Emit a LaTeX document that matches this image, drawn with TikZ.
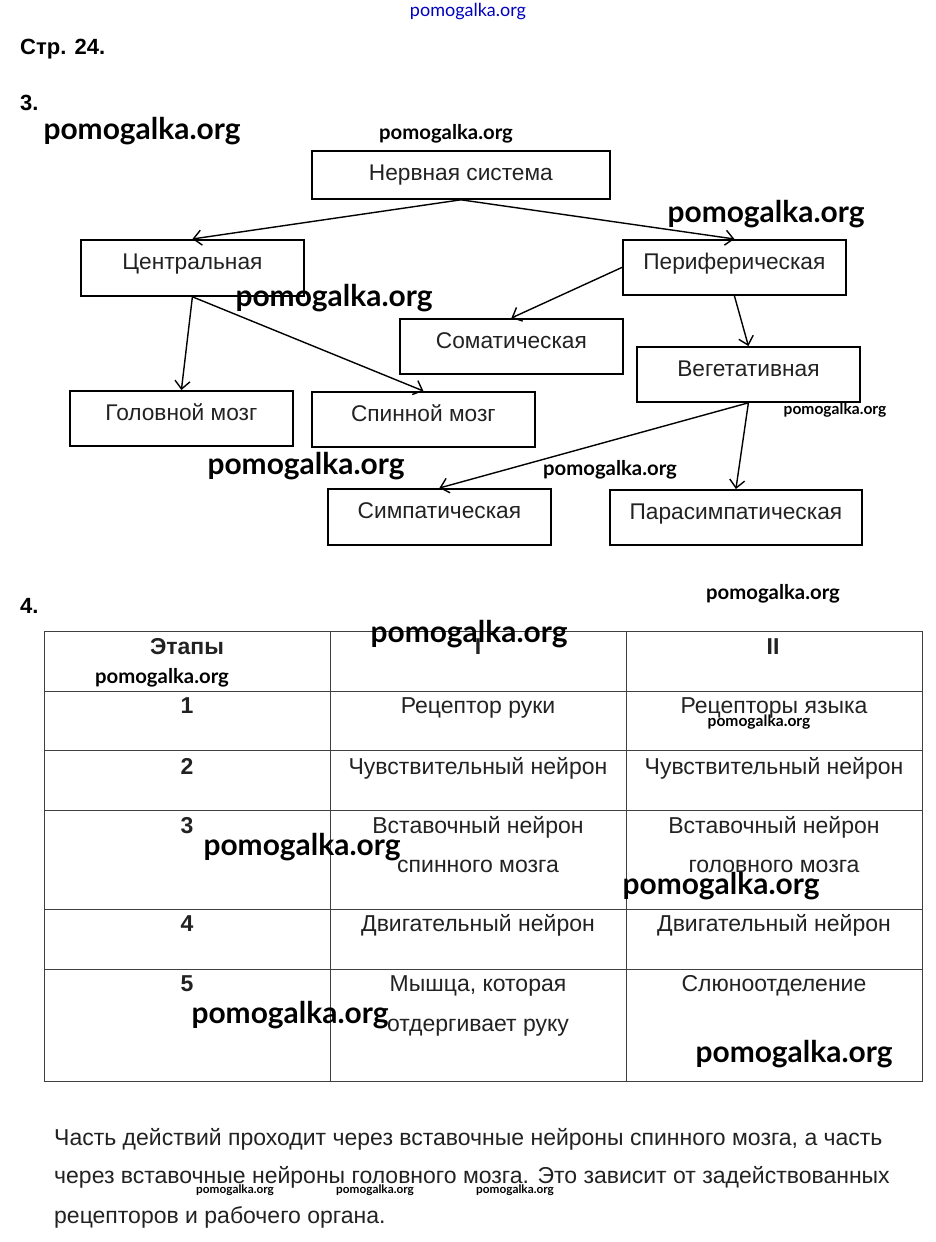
\documentclass[tikz,border=0pt]{standalone}
\usepackage{fontspec}
\setmainfont{Liberation Sans}
\newfontfamily\wmfont{Lato}
\usetikzlibrary{arrows.meta}
\definecolor{txt}{HTML}{222222}
\begin{document}
\begin{tikzpicture}[x=1pt,y=-1pt,
  box/.style={draw=black, line width=1.8pt, inner xsep=0pt, inner ysep=0pt, anchor=north west,
     text height=30pt, text depth=26pt, text=txt, font=\fontsize{22.7}{26}\selectfont},
  arr/.style={line width=1.4pt, -{Straight Barb[length=8pt,width=15pt,line width=1.4pt]}},
  tline/.style={line width=0.9pt, draw=black!75},
  ttxt/.style={text=txt, font=\fontsize{23}{27}\selectfont, anchor=base},
  tnum/.style={text=txt, font=\bfseries\fontsize{23}{27}\selectfont, anchor=base},
  wmbig/.style={font=\wmfont\bfseries\fontsize{29.9}{32}\selectfont, text=black, inner sep=0pt},
  wmmid/.style={font=\wmfont\bfseries\fontsize{20.3}{22}\selectfont, text=black, inner sep=0pt},
  wmsml/.style={font=\wmfont\bfseries\fontsize{15.6}{18}\selectfont, text=black, inner sep=0pt},
  wmtiny/.style={font=\wmfont\bfseries\fontsize{11.8}{14}\selectfont, text=black, inner sep=0pt},
  ptxt/.style={text=txt, font=\fontsize{23}{27}\selectfont, anchor=base west, inner sep=0pt},
  head/.style={text=black, font=\bfseries\fontsize{22}{26}\selectfont, anchor=base west, inner sep=0pt}
]
\useasboundingbox (0,0) rectangle (936,1242);
\fill[white] (0,0) rectangle (936,1242);

% headings
\node[head] (h1) at (20,54) {Стр. 24.};
\node[head] (h2) at (20,110) {3.};
\node[head] (h3) at (20,613) {4.};

% boxes
\node[box, minimum width=298pt, text depth=18pt] (nerv) at (311,150) {Нервная система};
\node[box, minimum width=223pt] (centr) at (80,239) {Центральная};
\node[box, minimum width=223pt, text depth=25pt] (perif) at (622,239) {Периферическая};
\node[box, minimum width=223pt, text depth=25pt] (somat) at (399,318) {Соматическая};
\node[box, minimum width=223pt, text depth=25pt] (veget) at (636,346) {Вегетативная};
\node[box, minimum width=223pt, text depth=25pt] (golov) at (69,390) {Головной мозг};
\node[box, minimum width=223pt, text depth=25pt] (spin) at (311,391) {Спинной мозг};
\node[box, minimum width=223pt] (simp) at (327,488) {Симпатическая};
\node[box, minimum width=252pt, text depth=25pt] (paras) at (609,489) {Парасимпатическая};

% arrows
\draw[arr] (nerv.south) -- (centr.north);
\draw[arr] (nerv.south) -- (perif.north);
\draw[arr] (centr.south) -- (golov.north);
\draw[arr] (centr.south) -- (spin.north);
\draw[arr] (perif.west) -- (somat.north);
\draw[arr] (perif.south) -- (veget.north);
\draw[arr] (veget.south) -- (simp.north);
\draw[arr] (veget.south) -- (paras.north);

% table
\draw[tline] (44,631) rectangle (922,1081);
\foreach \yy in {691,750,810,909,969} \draw[tline] (44,\yy) -- (922,\yy);
\draw[tline] (330,631) -- (330,1081);
\draw[tline] (626,631) -- (626,1081);

\node[tnum] (c0) at (187,654) {Этапы};
\node[tnum] (c1) at (478,654) {I};
\node[tnum] (c2) at (773,654) {II};
\node[tnum] (r1) at (187,713) {1};
\node[tnum] (r2) at (187,774) {2};
\node[tnum] (r3) at (187,833) {3};
\node[tnum] (r4) at (187,931) {4};
\node[tnum] (r5) at (187,991) {5};
\node[ttxt] (a1) at (478,713) {Рецептор руки};
\node[ttxt] (b1) at (774,713) {Рецепторы языка};
\node[ttxt] (a2) at (478,774) {Чувствительный нейрон};
\node[ttxt] (b2) at (774,774) {Чувствительный нейрон};
\node[ttxt] (a3) at (478,833) {Вставочный нейрон};
\node[ttxt] (a3b) at (478,872) {спинного мозга};
\node[ttxt] (b3) at (774,833) {Вставочный нейрон};
\node[ttxt] (b3b) at (774,872) {головного мозга};
\node[ttxt] (a4) at (478,931) {Двигательный нейрон};
\node[ttxt] (b4) at (774,931) {Двигательный нейрон};
\node[ttxt] (a5) at (478,991) {Мышца, которая};
\node[ttxt] (a5b) at (478,1031) {отдергивает руку};
\node[ttxt] (b5) at (774,991) {Слюноотделение};

% paragraph
\node[ptxt] (p1) at (54,1145) {Часть действий проходит через вставочные нейроны спинного мозга, а часть};
\node[ptxt] (p2) at (54,1183) {через вставочные нейроны головного мозга. Это зависит от задействованных};
\node[ptxt] (p3) at (54,1223) {рецепторов и рабочего органа.};

% watermarks
\node[font=\wmfont\fontsize{18}{20}\selectfont, text=blue!75!black, inner sep=0pt] (w0) at (468,12) {pomogalka.org};
\node[wmbig] (w1) at (142,131) {pomogalka.org};
\node[wmmid] (w2) at (446,134) {pomogalka.org};
\node[wmbig] (w3) at (766,214) {pomogalka.org};
\node[wmbig] (w4) at (334,298) {pomogalka.org};
\node[wmsml] (w5) at (835,410) {pomogalka.org};
\node[wmbig] (w6) at (306,466) {pomogalka.org};
\node[wmmid] (w7) at (610,470) {pomogalka.org};
\node[wmmid] (w8) at (773,594) {pomogalka.org};
\node[wmbig] (w9) at (469,634) {pomogalka.org};
\node[wmmid] (w10) at (162,678) {pomogalka.org};
\node[wmsml] (w11) at (759,722) {pomogalka.org};
\node[wmbig] (w12) at (302,847) {pomogalka.org};
\node[wmbig] (w13) at (721,886) {pomogalka.org};
\node[wmbig] (w14) at (290,1015) {pomogalka.org};
\node[wmbig] (w15) at (794,1054) {pomogalka.org};
\node[wmtiny] (w16) at (235,1190) {pomogalka.org};
\node[wmtiny] (w17) at (375,1190) {pomogalka.org};
\node[wmtiny] (w18) at (515,1190) {pomogalka.org};
\end{tikzpicture}
\end{document}
